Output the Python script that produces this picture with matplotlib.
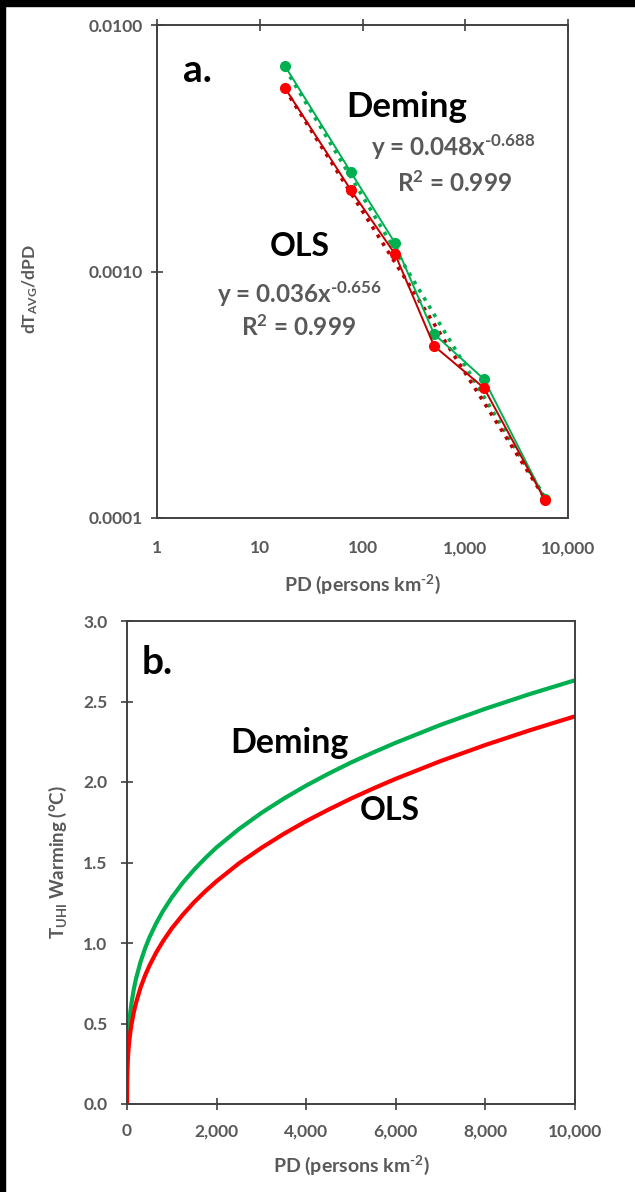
import matplotlib
matplotlib.use('Agg')
import matplotlib.pyplot as plt
import numpy as np
from matplotlib.patches import Rectangle

plt.rcParams['font.family'] = ['Lato', 'DejaVu Sans']
plt.rcParams['mathtext.default'] = 'regular'
plt.rcParams['mathtext.fontset'] = 'custom'
plt.rcParams['mathtext.rm'] = 'Lato:bold'
plt.rcParams['mathtext.bf'] = 'Lato:bold'
plt.rcParams['mathtext.it'] = 'Lato:bold:italic'

# panel a: slope of warming vs population density (log-log)
pd_points = [17.6, 77, 207, 497, 1520, 5980]
deming_slope = [0.00682, 0.00253, 0.001305, 0.000558, 0.000366, 0.000119]
ols_slope = [0.00555, 0.00214, 0.001178, 0.000499, 0.000337, 0.000118]
deming_fit = (0.048, -0.688)
ols_fit = (0.036, -0.656)

# panel b: cumulative UHI warming
pd_curve = [0, 1, 2, 5, 10, 20, 35, 50, 75, 100, 150, 200, 300, 400, 500, 650, 800, 1000,
            1250, 1500, 1750, 2000, 2500, 3000, 3500, 4000, 4500, 5000, 5500, 6000,
            7000, 8000, 9000, 10000]
deming_warming = [0, 0.149, 0.185, 0.246, 0.305, 0.379, 0.451, 0.504, 0.572, 0.626, 0.710,
                  0.777, 0.881, 0.964, 1.034, 1.122, 1.197, 1.283, 1.376, 1.456, 1.528, 1.594,
                  1.708, 1.808, 1.897, 1.978, 2.052, 2.121, 2.184, 2.244, 2.355, 2.455, 2.547, 2.632]
ols_warming = [0, 0.101, 0.129, 0.176, 0.224, 0.284, 0.344, 0.389, 0.447, 0.494, 0.568,
               0.627, 0.721, 0.796, 0.859, 0.940, 1.010, 1.091, 1.177, 1.254, 1.322, 1.384,
               1.495, 1.591, 1.678, 1.757, 1.829, 1.897, 1.960, 2.020, 2.130, 2.230, 2.322, 2.408]

GREEN = '#00B050'
RED = '#FF0000'
DARKRED = '#C00000'
GREY = '#595959'
SPINE = '#404040'

fig = plt.figure(figsize=(6.35, 11.92), dpi=100)
fig.patch.set_facecolor('white')
# black border strips seen in the screenshot
fig.patches.append(Rectangle((0, 0), 5 / 635, 1, transform=fig.transFigure, color='black', zorder=0))
fig.patches.append(Rectangle((0, 1 - 6 / 1192), 1, 6 / 1192, transform=fig.transFigure, color='black', zorder=0))


def style_axes(ax):
    for s in ax.spines.values():
        s.set_color(SPINE)
        s.set_linewidth(1.4)
    ax.tick_params(colors=SPINE, labelcolor=GREY, labelsize=12.5, width=1.2, length=8)
    for lab in ax.get_xticklabels() + ax.get_yticklabels():
        lab.set_fontweight('bold')


def label(ax, px, py, box, s, size, color='black'):
    # place text by pixel position inside the axes box (left, top, width, height)
    left, top, w, h = box
    ax.text((px - left) / w, (top + h - py) / h, s, transform=ax.transAxes, fontsize=size,
            fontweight='bold', color=color, ha='center', va='center')


# ---- panel a ----
box1 = (157, 25, 411, 493)
ax1 = fig.add_axes([157 / 635, 1 - 518 / 1192, 411 / 635, 493 / 1192])
ax1.set_xscale('log')
ax1.set_yscale('log')
ax1.set_xlim(1, 10000)
ax1.set_ylim(0.0001, 0.01)

xfit = np.array([min(pd_points), max(pd_points)])
ax1.plot(xfit, deming_fit[0] * xfit ** deming_fit[1], ':', color=GREEN, lw=2.6)
ax1.plot(xfit, ols_fit[0] * xfit ** ols_fit[1], ':', color=DARKRED, lw=2.6)
ax1.plot(pd_points, deming_slope, '-o', color=GREEN, lw=1.4, ms=7)
ax1.plot(pd_points, ols_slope, '-', color=DARKRED, lw=1.4)
ax1.plot(pd_points, ols_slope, 'o', color=RED, ms=7)

ax1.set_xticks([1, 10, 100, 1000, 10000])
ax1.set_xticklabels(['1', '10', '100', '1,000', '10,000'])
ax1.set_yticks([0.0001, 0.001, 0.01])
ax1.set_yticklabels(['0.0001', '0.0010', '0.0100'])
ax1.minorticks_off()
ax1.tick_params(axis='x', bottom=False, top=True, labelbottom=True, direction='inout', pad=12)
ax1.tick_params(axis='y', direction='inout', pad=6)
style_axes(ax1)
ax1.set_xlabel(r'PD (persons km$^{\text{-2}}$)', color=GREY, fontsize=14, fontweight='bold', labelpad=12)
ax1.set_ylabel('dT$_{AVG}$/dPD', color=GREY, fontsize=12.5, fontweight='bold')
ax1.yaxis.set_label_coords((40 - 157) / 411, 0.465)

label(ax1, 197, 70, box1, 'a.', 28)
label(ax1, 407, 107, box1, 'Deming', 25)
label(ax1, 453, 147, box1, r'y = 0.048x$^{\text{-0.688}}$', 17.5, GREY)
label(ax1, 454, 183, box1, 'R$^{2}$ = 0.999', 17.5, GREY)
label(ax1, 300, 247, box1, 'OLS', 23)
label(ax1, 299, 294, box1, r'y = 0.036x$^{\text{-0.656}}$', 17.5, GREY)
label(ax1, 298, 327, box1, 'R$^{2}$ = 0.999', 17.5, GREY)

# ---- panel b ----
box2 = (127, 621, 448, 483)
ax2 = fig.add_axes([127 / 635, 1 - 1104 / 1192, 448 / 635, 483 / 1192])
ax2.plot(pd_curve, deming_warming, color=GREEN, lw=3)
ax2.plot(pd_curve, ols_warming, color=RED, lw=3)
ax2.set_xlim(0, 10000)
ax2.set_ylim(0, 3)
ax2.set_xticks(np.arange(0, 10001, 2000))
ax2.set_xticklabels(['0', '2,000', '4,000', '6,000', '8,000', '10,000'])
ax2.set_yticks(np.arange(0, 3.01, 0.5))
ax2.set_yticklabels([f'{v:.1f}' for v in np.arange(0, 3.01, 0.5)])
ax2.tick_params(direction='inout', pad=10)
style_axes(ax2)
ax2.set_xlabel(r'PD (persons km$^{\text{-2}}$)', color=GREY, fontsize=14, fontweight='bold', labelpad=10)
ax2.set_ylabel('T$_{UHI}$ Warming (°C)', color=GREY, fontsize=13.5, fontweight='bold')
ax2.yaxis.set_label_coords((69 - 127) / 448, 0.5)

label(ax2, 157, 662, box2, 'b.', 28)
label(ax2, 289, 743, box2, 'Deming', 24.5)
label(ax2, 390, 810, box2, 'OLS', 23)

fig.savefig('out.png', dpi=100, facecolor=fig.get_facecolor())
